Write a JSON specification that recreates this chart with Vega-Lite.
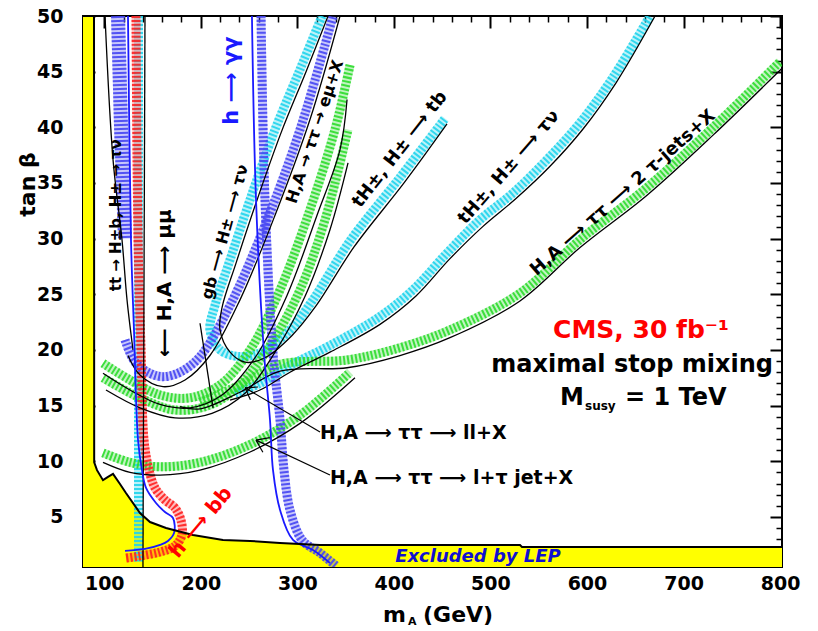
{
  "$schema": "https://vega.github.io/schema/vega-lite/v6.json",
  "width": 699,
  "height": 551,
  "autosize": {"type": "none"},
  "padding": {"left": 83, "top": 16, "right": 36, "bottom": 64},
  "background": "white",
  "config": {"view": {"stroke": "black", "strokeWidth": 2}},
  "datasets": {
    "lep": [
      {"i": 0, "m": 78, "t": 50}, {"i": 1, "m": 89.4, "t": 50}, {"i": 2, "m": 89.6, "t": 9.9},
      {"i": 3, "m": 92.5, "t": 9.2}, {"i": 4, "m": 98.7, "t": 8.3}, {"i": 5, "m": 103.9, "t": 8.6},
      {"i": 6, "m": 109.1, "t": 8.86}, {"i": 7, "m": 116.3, "t": 7.96}, {"i": 8, "m": 122.5, "t": 7.15},
      {"i": 9, "m": 137, "t": 5.35}, {"i": 10, "m": 147.4, "t": 4.54}, {"i": 11, "m": 164, "t": 4.0},
      {"i": 12, "m": 191.9, "t": 3.38}, {"i": 13, "m": 223, "t": 2.93}, {"i": 14, "m": 251, "t": 2.84},
      {"i": 15, "m": 282, "t": 2.66}, {"i": 16, "m": 323.5, "t": 2.48}, {"i": 17, "m": 530.6, "t": 2.48},
      {"i": 18, "m": 532.7, "t": 2.3}, {"i": 19, "m": 802, "t": 2.3}
    ],
    "bands": [
      {"id": "a_cv", "f": "cyan", "i": 0, "m": 135.5, "t": 50}, {"id": "a_cv", "f": "cyan", "i": 1, "m": 135.5, "t": 1.0},
      {"id": "b_cu", "f": "cyan", "i": 0, "m": 325.6, "t": 50}, {"id": "b_cu", "f": "cyan", "i": 1, "m": 302.8, "t": 45.2},
      {"id": "b_cu", "f": "cyan", "i": 2, "m": 276.9, "t": 39.8}, {"id": "b_cu", "f": "cyan", "i": 3, "m": 251, "t": 33.5},
      {"id": "b_cu", "f": "cyan", "i": 4, "m": 230.3, "t": 28.1}, {"id": "b_cu", "f": "cyan", "i": 5, "m": 214.7, "t": 24.0},
      {"id": "b_cu", "f": "cyan", "i": 6, "m": 209.5, "t": 21.8}, {"id": "b_cu", "f": "cyan", "i": 7, "m": 219.9, "t": 20.0},
      {"id": "b_cu", "f": "cyan", "i": 8, "m": 240.6, "t": 19.4}, {"id": "b_cu", "f": "cyan", "i": 9, "m": 263.4, "t": 19.8},
      {"id": "b_cu", "f": "cyan", "i": 10, "m": 292.4, "t": 21.8}, {"id": "b_cu", "f": "cyan", "i": 11, "m": 316.2, "t": 24.5},
      {"id": "b_cu", "f": "cyan", "i": 12, "m": 354.6, "t": 29.8}, {"id": "b_cu", "f": "cyan", "i": 13, "m": 406.3, "t": 35.5},
      {"id": "b_cu", "f": "cyan", "i": 14, "m": 453, "t": 40.8},
      {"id": "c_ctn", "f": "cyan", "i": 0, "m": 235.4, "t": 16.1}, {"id": "c_ctn", "f": "cyan", "i": 1, "m": 261.3, "t": 17.0},
      {"id": "c_ctn", "f": "cyan", "i": 2, "m": 292.4, "t": 18.6}, {"id": "c_ctn", "f": "cyan", "i": 3, "m": 333.8, "t": 20.4},
      {"id": "c_ctn", "f": "cyan", "i": 4, "m": 385.6, "t": 23.0}, {"id": "c_ctn", "f": "cyan", "i": 5, "m": 419.8, "t": 25.4},
      {"id": "c_ctn", "f": "cyan", "i": 6, "m": 455, "t": 28.7}, {"id": "c_ctn", "f": "cyan", "i": 7, "m": 489.2, "t": 31.7},
      {"id": "c_ctn", "f": "cyan", "i": 8, "m": 523.4, "t": 34.1}, {"id": "c_ctn", "f": "cyan", "i": 9, "m": 558.6, "t": 37.1},
      {"id": "c_ctn", "f": "cyan", "i": 10, "m": 592.8, "t": 40.4}, {"id": "c_ctn", "f": "cyan", "i": 11, "m": 627, "t": 44.5},
      {"id": "c_ctn", "f": "cyan", "i": 12, "m": 665.3, "t": 50},
      {"id": "d_emu", "f": "green", "i": 0, "m": 98.7, "t": 18.8}, {"id": "d_emu", "f": "green", "i": 1, "m": 126.7, "t": 17.3},
      {"id": "d_emu", "f": "green", "i": 2, "m": 157.8, "t": 15.95}, {"id": "d_emu", "f": "green", "i": 3, "m": 188.8, "t": 15.7},
      {"id": "d_emu", "f": "green", "i": 4, "m": 219.9, "t": 16.85}, {"id": "d_emu", "f": "green", "i": 5, "m": 251, "t": 20.0},
      {"id": "d_emu", "f": "green", "i": 6, "m": 282.1, "t": 25.4}, {"id": "d_emu", "f": "green", "i": 7, "m": 313.1, "t": 32.6},
      {"id": "d_emu", "f": "green", "i": 8, "m": 339, "t": 39.8}, {"id": "d_emu", "f": "green", "i": 9, "m": 354.6, "t": 45.6},
      {"id": "e_ll", "f": "green", "i": 0, "m": 98.7, "t": 17.5}, {"id": "e_ll", "f": "green", "i": 1, "m": 137, "t": 15.7},
      {"id": "e_ll", "f": "green", "i": 2, "m": 173.3, "t": 14.6}, {"id": "e_ll", "f": "green", "i": 3, "m": 209.5, "t": 15.05},
      {"id": "e_ll", "f": "green", "i": 4, "m": 240.6, "t": 16.85}, {"id": "e_ll", "f": "green", "i": 5, "m": 271.7, "t": 20.4},
      {"id": "e_ll", "f": "green", "i": 6, "m": 302.8, "t": 25.4}, {"id": "e_ll", "f": "green", "i": 7, "m": 328.7, "t": 31.7},
      {"id": "e_ll", "f": "green", "i": 8, "m": 352.5, "t": 39.8},
      {"id": "f_2t", "f": "green", "i": 0, "m": 199.2, "t": 15.3}, {"id": "f_2t", "f": "green", "i": 1, "m": 240.6, "t": 16.85},
      {"id": "f_2t", "f": "green", "i": 2, "m": 282.1, "t": 18.7}, {"id": "f_2t", "f": "green", "i": 3, "m": 351.5, "t": 19.1},
      {"id": "f_2t", "f": "green", "i": 4, "m": 406.3, "t": 20.2}, {"id": "f_2t", "f": "green", "i": 5, "m": 458.1, "t": 21.8},
      {"id": "f_2t", "f": "green", "i": 6, "m": 530.6, "t": 25.1}, {"id": "f_2t", "f": "green", "i": 7, "m": 592.8, "t": 29.9},
      {"id": "f_2t", "f": "green", "i": 8, "m": 662.2, "t": 34.6}, {"id": "f_2t", "f": "green", "i": 9, "m": 730.6, "t": 40.0},
      {"id": "f_2t", "f": "green", "i": 10, "m": 800, "t": 45.9},
      {"id": "g_ltj", "f": "green", "i": 0, "m": 98.7, "t": 10.75}, {"id": "g_ltj", "f": "green", "i": 1, "m": 126.7, "t": 9.9},
      {"id": "g_ltj", "f": "green", "i": 2, "m": 157.8, "t": 9.5}, {"id": "g_ltj", "f": "green", "i": 3, "m": 199.2, "t": 9.9},
      {"id": "g_ltj", "f": "green", "i": 4, "m": 251, "t": 11.5}, {"id": "g_ltj", "f": "green", "i": 5, "m": 302.8, "t": 14.15},
      {"id": "g_ltj", "f": "green", "i": 6, "m": 354.6, "t": 18.0},
      {"id": "h_mumu", "f": "purple", "i": 0, "m": 121.5, "t": 20.9}, {"id": "h_mumu", "f": "purple", "i": 1, "m": 131.9, "t": 18.9},
      {"id": "h_mumu", "f": "purple", "i": 2, "m": 147.4, "t": 17.9}, {"id": "h_mumu", "f": "purple", "i": 3, "m": 160.9, "t": 17.6},
      {"id": "h_mumu", "f": "purple", "i": 4, "m": 178.5, "t": 18.0}, {"id": "h_mumu", "f": "purple", "i": 5, "m": 199.2, "t": 19.4},
      {"id": "h_mumu", "f": "purple", "i": 6, "m": 230.3, "t": 24.0}, {"id": "h_mumu", "f": "purple", "i": 7, "m": 266.5, "t": 31.2},
      {"id": "h_mumu", "f": "purple", "i": 8, "m": 302.8, "t": 39.8}, {"id": "h_mumu", "f": "purple", "i": 9, "m": 337, "t": 50},
      {"id": "i_gg", "f": "purple", "i": 0, "m": 262.4, "t": 50}, {"id": "i_gg", "f": "purple", "i": 1, "m": 266.5, "t": 33.5},
      {"id": "i_gg", "f": "purple", "i": 2, "m": 274.8, "t": 19.7}, {"id": "i_gg", "f": "purple", "i": 3, "m": 282.1, "t": 13.7},
      {"id": "i_gg", "f": "purple", "i": 4, "m": 286.2, "t": 9.2}, {"id": "i_gg", "f": "purple", "i": 5, "m": 292.4, "t": 5.62},
      {"id": "i_gg", "f": "purple", "i": 6, "m": 304.8, "t": 2.93}, {"id": "i_gg", "f": "purple", "i": 7, "m": 323.5, "t": 1.76},
      {"id": "i_gg", "f": "purple", "i": 8, "m": 340.1, "t": 0.6},
      {"id": "j_bb", "f": "red", "i": 0, "m": 132.9, "t": 50}, {"id": "j_bb", "f": "red", "i": 1, "m": 135, "t": 29.9},
      {"id": "j_bb", "f": "red", "i": 2, "m": 138.1, "t": 20}, {"id": "j_bb", "f": "red", "i": 3, "m": 141.2, "t": 11.9},
      {"id": "j_bb", "f": "red", "i": 4, "m": 146.4, "t": 9.2}, {"id": "j_bb", "f": "red", "i": 5, "m": 152.6, "t": 7.6},
      {"id": "j_bb", "f": "red", "i": 6, "m": 162.9, "t": 6.52}, {"id": "j_bb", "f": "red", "i": 7, "m": 173.3, "t": 5.8},
      {"id": "j_bb", "f": "red", "i": 8, "m": 179.5, "t": 4.7}, {"id": "j_bb", "f": "red", "i": 9, "m": 180.5, "t": 3.38},
      {"id": "j_bb", "f": "red", "i": 10, "m": 173.3, "t": 2.39}, {"id": "j_bb", "f": "red", "i": 11, "m": 157.8, "t": 1.85},
      {"id": "j_bb", "f": "red", "i": 12, "m": 137, "t": 1.49}, {"id": "j_bb", "f": "red", "i": 13, "m": 122.5, "t": 1.3},
      {"id": "k_tt", "f": "purple", "i": 0, "m": 114.3, "t": 50}, {"id": "k_tt", "f": "purple", "i": 1, "m": 117.4, "t": 40},
      {"id": "k_tt", "f": "purple", "i": 2, "m": 121.5, "t": 30}
    ],
    "lines": [
      {"id": "tt", "k": "black", "i": 0, "m": 100.8, "t": 50}, {"id": "tt", "k": "black", "i": 1, "m": 109.1, "t": 37.1},
      {"id": "tt", "k": "black", "i": 2, "m": 118.4, "t": 29.9}, {"id": "tt", "k": "black", "i": 3, "m": 123.6, "t": 24.5},
      {"id": "tt", "k": "black", "i": 4, "m": 129.8, "t": 20.0},
      {"id": "mumu", "k": "black", "i": 0, "m": 124.6, "t": 19.5}, {"id": "mumu", "k": "black", "i": 1, "m": 137, "t": 17.75},
      {"id": "mumu", "k": "black", "i": 2, "m": 160.9, "t": 16.7}, {"id": "mumu", "k": "black", "i": 3, "m": 183.7, "t": 17.3},
      {"id": "mumu", "k": "black", "i": 4, "m": 209.5, "t": 19.5}, {"id": "mumu", "k": "black", "i": 5, "m": 240.6, "t": 24.5},
      {"id": "mumu", "k": "black", "i": 6, "m": 276.9, "t": 32.1}, {"id": "mumu", "k": "black", "i": 7, "m": 313.1, "t": 40.7},
      {"id": "mumu", "k": "black", "i": 8, "m": 344.2, "t": 50},
      {"id": "vert", "k": "black", "i": 0, "m": 142.2, "t": 50}, {"id": "vert", "k": "black", "i": 1, "m": 140.1, "t": 0.5},
      {"id": "cu", "k": "black", "i": 0, "m": 331.8, "t": 50}, {"id": "cu", "k": "black", "i": 1, "m": 309, "t": 45.0},
      {"id": "cu", "k": "black", "i": 2, "m": 283.1, "t": 39.5}, {"id": "cu", "k": "black", "i": 3, "m": 257.2, "t": 33.2},
      {"id": "cu", "k": "black", "i": 4, "m": 236.5, "t": 27.8}, {"id": "cu", "k": "black", "i": 5, "m": 222, "t": 23.8},
      {"id": "cu", "k": "black", "i": 6, "m": 219.9, "t": 21.8}, {"id": "cu", "k": "black", "i": 7, "m": 230.3, "t": 19.8},
      {"id": "cu", "k": "black", "i": 8, "m": 245.8, "t": 18.9}, {"id": "cu", "k": "black", "i": 9, "m": 266.5, "t": 19.3},
      {"id": "cu", "k": "black", "i": 10, "m": 294.5, "t": 21.3}, {"id": "cu", "k": "black", "i": 11, "m": 319.3, "t": 23.95},
      {"id": "cu", "k": "black", "i": 12, "m": 358.7, "t": 29.25}, {"id": "cu", "k": "black", "i": 13, "m": 410.5, "t": 35.0},
      {"id": "cu", "k": "black", "i": 14, "m": 455, "t": 40.3},
      {"id": "ctn", "k": "black", "i": 0, "m": 230.3, "t": 15.5}, {"id": "ctn", "k": "black", "i": 1, "m": 261.3, "t": 16.4},
      {"id": "ctn", "k": "black", "i": 2, "m": 292.4, "t": 18.0}, {"id": "ctn", "k": "black", "i": 3, "m": 333.8, "t": 19.8},
      {"id": "ctn", "k": "black", "i": 4, "m": 385.6, "t": 22.3}, {"id": "ctn", "k": "black", "i": 5, "m": 422.9, "t": 24.85},
      {"id": "ctn", "k": "black", "i": 6, "m": 458.1, "t": 28.2}, {"id": "ctn", "k": "black", "i": 7, "m": 492.3, "t": 31.1},
      {"id": "ctn", "k": "black", "i": 8, "m": 526.5, "t": 33.6}, {"id": "ctn", "k": "black", "i": 9, "m": 561.7, "t": 36.5},
      {"id": "ctn", "k": "black", "i": 10, "m": 595.9, "t": 39.85}, {"id": "ctn", "k": "black", "i": 11, "m": 630.1, "t": 44.0},
      {"id": "ctn", "k": "black", "i": 12, "m": 670.5, "t": 50},
      {"id": "emu", "k": "black", "i": 0, "m": 98.7, "t": 17.9}, {"id": "emu", "k": "black", "i": 1, "m": 126.7, "t": 16.4},
      {"id": "emu", "k": "black", "i": 2, "m": 157.8, "t": 15.1}, {"id": "emu", "k": "black", "i": 3, "m": 188.8, "t": 14.8},
      {"id": "emu", "k": "black", "i": 4, "m": 222, "t": 15.95}, {"id": "emu", "k": "black", "i": 5, "m": 256.2, "t": 19.3},
      {"id": "emu", "k": "black", "i": 6, "m": 289.3, "t": 24.9}, {"id": "emu", "k": "black", "i": 7, "m": 320.4, "t": 32.1},
      {"id": "emu", "k": "black", "i": 8, "m": 344.2, "t": 38.0}, {"id": "emu", "k": "black", "i": 9, "m": 351.5, "t": 42.5},
      {"id": "ll", "k": "black", "i": 0, "m": 101.8, "t": 16.4}, {"id": "ll", "k": "black", "i": 1, "m": 137, "t": 14.8},
      {"id": "ll", "k": "black", "i": 2, "m": 173.3, "t": 13.9}, {"id": "ll", "k": "black", "i": 3, "m": 211.6, "t": 14.3},
      {"id": "ll", "k": "black", "i": 4, "m": 245.8, "t": 16.1}, {"id": "ll", "k": "black", "i": 5, "m": 276.9, "t": 19.8},
      {"id": "ll", "k": "black", "i": 6, "m": 307.9, "t": 24.8}, {"id": "ll", "k": "black", "i": 7, "m": 333.8, "t": 30.8},
      {"id": "ll", "k": "black", "i": 8, "m": 352.5, "t": 36.8},
      {"id": "tau2", "k": "black", "i": 0, "m": 178.5, "t": 14.9}, {"id": "tau2", "k": "black", "i": 1, "m": 199.2, "t": 14.7},
      {"id": "tau2", "k": "black", "i": 2, "m": 240.6, "t": 16.2}, {"id": "tau2", "k": "black", "i": 3, "m": 282.1, "t": 18.1},
      {"id": "tau2", "k": "black", "i": 4, "m": 351.5, "t": 18.4}, {"id": "tau2", "k": "black", "i": 5, "m": 406.3, "t": 19.5},
      {"id": "tau2", "k": "black", "i": 6, "m": 458.1, "t": 21.1}, {"id": "tau2", "k": "black", "i": 7, "m": 530.6, "t": 24.4},
      {"id": "tau2", "k": "black", "i": 8, "m": 592.8, "t": 29.2}, {"id": "tau2", "k": "black", "i": 9, "m": 662.2, "t": 33.9},
      {"id": "tau2", "k": "black", "i": 10, "m": 730.6, "t": 39.3}, {"id": "tau2", "k": "black", "i": 11, "m": 802, "t": 45.3},
      {"id": "ltj", "k": "black", "i": 0, "m": 98.7, "t": 9.9}, {"id": "ltj", "k": "black", "i": 1, "m": 126.7, "t": 9.0},
      {"id": "ltj", "k": "black", "i": 2, "m": 157.8, "t": 8.75}, {"id": "ltj", "k": "black", "i": 3, "m": 199.2, "t": 9.2},
      {"id": "ltj", "k": "black", "i": 4, "m": 251, "t": 10.83}, {"id": "ltj", "k": "black", "i": 5, "m": 302.8, "t": 13.4},
      {"id": "ltj", "k": "black", "i": 6, "m": 359.7, "t": 17.5},
      {"id": "gb", "k": "black", "i": 0, "m": 199.2, "t": 22.4}, {"id": "gb", "k": "black", "i": 1, "m": 212.7, "t": 14.8},
      {"id": "hbb", "k": "blue", "i": 0, "m": 124.6, "t": 50}, {"id": "hbb", "k": "blue", "i": 1, "m": 127.7, "t": 29.9},
      {"id": "hbb", "k": "blue", "i": 2, "m": 130.8, "t": 21.8}, {"id": "hbb", "k": "blue", "i": 3, "m": 135, "t": 11.9},
      {"id": "hbb", "k": "blue", "i": 4, "m": 139.1, "t": 9.2}, {"id": "hbb", "k": "blue", "i": 5, "m": 143.3, "t": 7.6},
      {"id": "hbb", "k": "blue", "i": 6, "m": 153.6, "t": 6.25}, {"id": "hbb", "k": "blue", "i": 7, "m": 162.9, "t": 5.44},
      {"id": "hbb", "k": "blue", "i": 8, "m": 171.2, "t": 4.9}, {"id": "hbb", "k": "blue", "i": 9, "m": 172.3, "t": 3.55},
      {"id": "hbb", "k": "blue", "i": 10, "m": 166, "t": 2.84}, {"id": "hbb", "k": "blue", "i": 11, "m": 157.8, "t": 2.48},
      {"id": "hbb", "k": "blue", "i": 12, "m": 142.2, "t": 2.12}, {"id": "hbb", "k": "blue", "i": 13, "m": 121.5, "t": 1.94},
      {"id": "hgg", "k": "blue", "i": 0, "m": 253, "t": 50}, {"id": "hgg", "k": "blue", "i": 1, "m": 257.2, "t": 33.5},
      {"id": "hgg", "k": "blue", "i": 2, "m": 265.5, "t": 19.7}, {"id": "hgg", "k": "blue", "i": 3, "m": 271.7, "t": 13.7},
      {"id": "hgg", "k": "blue", "i": 4, "m": 274.8, "t": 9.2}, {"id": "hgg", "k": "blue", "i": 5, "m": 282.1, "t": 5.62},
      {"id": "hgg", "k": "blue", "i": 6, "m": 295.5, "t": 2.93}, {"id": "hgg", "k": "blue", "i": 7, "m": 316.2, "t": 2.03},
      {"id": "hgg", "k": "blue", "i": 8, "m": 333.8, "t": 0.86}
    ],
    "segs": [
      {"m": 245.8, "t": 16.6, "m2": 323.5, "t2": 12.63},
      {"m": 245.8, "t": 16.6, "m2": 251.4, "t2": 15.52},
      {"m": 245.8, "t": 16.6, "m2": 259.2, "t2": 16.67},
      {"m": 257.2, "t": 11.9, "m2": 333.8, "t2": 8.77},
      {"m": 257.2, "t": 11.9, "m2": 264.3, "t2": 10.81},
      {"m": 257.2, "t": 11.9, "m2": 271.5, "t2": 12.12}
    ],
    "ann": [
      {"g": "cms", "m": 656, "t": 21.8, "s": "CMS, 30 fb⁻¹"},
      {"g": "big", "m": 646.7, "t": 18.65, "s": "maximal stop mixing"},
      {"g": "bigL", "m": 572.1, "t": 15.7, "s": "M"},
      {"g": "bigL", "m": 639.4, "t": 15.7, "s": "= 1 TeV"},
      {"g": "sub", "m": 598, "t": 14.97, "s": "susy"},
      {"g": "decay", "m": 323.5, "t": 12.54, "s": "H,A ⟶ ττ ⟶ ll+X"},
      {"g": "decay", "m": 333.8, "t": 8.5, "s": "H,A ⟶ ττ ⟶ l+τ jet+X"},
      {"g": "lep", "m": 487.1, "t": 1.4, "s": "Excluded by LEP"},
      {"g": "gg", "m": 232.3, "t": 44.2, "s": "h ⟶ γγ"},
      {"g": "tt", "m": 112.2, "t": 32.1, "s": "tt → H±b, H± → τν"},
      {"g": "mumu", "m": 162.9, "t": 26.0, "s": "⟵ H,A ⟶ μμ"},
      {"g": "gb", "m": 225.1, "t": 30.6, "s": "gb ⟶ H± ⟶ τν"},
      {"g": "emu", "m": 318.3, "t": 39.6, "s": "H,A → ττ → eμ+X"},
      {"g": "tb", "m": 406.3, "t": 38.0, "s": "tH±, H± ⟶ tb"},
      {"g": "tn", "m": 519.3, "t": 36.4, "s": "tH±, H± ⟶ τν"},
      {"g": "2t", "m": 637.3, "t": 34.1, "s": "H,A ⟶ ττ ⟶ 2 τ-jets+X"},
      {"g": "hbb", "m": 200.2, "t": 4.5, "s": "h ⟶ bb"},
      {"g": "xt", "m": 388.7, "t": -3.81, "s": "m"},
      {"g": "xt", "m": 430.2, "t": -3.81, "s": "(GeV)"},
      {"g": "xa", "m": 414.6, "t": -4.4, "s": "A"}
    ]
  },
  "encoding": {
    "x": {"field": "m", "type": "quantitative", "scale": {"domain": [78, 802], "nice": false, "zero": false}, "axis": null},
    "y": {"field": "t", "type": "quantitative", "scale": {"domain": [0.5, 50], "nice": false, "zero": false}, "axis": null}
  },
  "layer": [
    {
      "data": {"name": "lep"},
      "mark": {"type": "area", "color": "#ffff00", "clip": true},
      "encoding": {"y2": {"datum": 0.5}}
    },
    {
      "data": {"name": "bands"},
      "transform": [{"filter": "datum.id != 'k_tt'"}],
      "mark": {"type": "line", "strokeWidth": 9, "opacity": 0.3, "interpolate": "catmull-rom", "clip": true},
      "encoding": {
        "detail": {"field": "id"},
        "order": {"field": "i"},
        "color": {"field": "f", "type": "nominal", "scale": {"domain": ["purple", "cyan", "green", "red"], "range": ["#4646f2", "#20d4ec", "#2edc2e", "#ff2020"]}, "legend": null}
      }
    },
    {
      "data": {"name": "bands"},
      "transform": [{"filter": "datum.id == 'k_tt'"}],
      "mark": {"type": "line", "strokeWidth": 14, "opacity": 0.3, "clip": true},
      "encoding": {
        "detail": {"field": "id"},
        "order": {"field": "i"},
        "color": {"field": "f", "type": "nominal", "scale": {"domain": ["purple", "cyan", "green", "red"], "range": ["#4646f2", "#20d4ec", "#2edc2e", "#ff2020"]}, "legend": null}
      }
    },
    {
      "data": {"name": "bands"},
      "transform": [{"filter": "datum.id != 'k_tt'"}],
      "mark": {"type": "line", "strokeWidth": 9, "strokeDash": [2, 2], "strokeCap": "butt", "opacity": 0.9, "interpolate": "catmull-rom", "clip": true},
      "encoding": {
        "detail": {"field": "id"},
        "order": {"field": "i"},
        "color": {"field": "f", "type": "nominal", "scale": {"domain": ["purple", "cyan", "green", "red"], "range": ["#4646f2", "#20d4ec", "#2edc2e", "#ff2020"]}, "legend": null}
      }
    },
    {
      "data": {"name": "bands"},
      "transform": [{"filter": "datum.id == 'k_tt'"}],
      "mark": {"type": "line", "strokeWidth": 14, "strokeDash": [2, 2], "strokeCap": "butt", "opacity": 0.9, "clip": true},
      "encoding": {
        "detail": {"field": "id"},
        "order": {"field": "i"},
        "color": {"field": "f", "type": "nominal", "scale": {"domain": ["purple", "cyan", "green", "red"], "range": ["#4646f2", "#20d4ec", "#2edc2e", "#ff2020"]}, "legend": null}
      }
    },
    {
      "data": {"name": "lines"},
      "transform": [{"filter": "datum.k == 'black'"}],
      "mark": {"type": "line", "color": "black", "strokeWidth": 1.3, "interpolate": "catmull-rom", "clip": true},
      "encoding": {"detail": {"field": "id"}, "order": {"field": "i"}}
    },
    {
      "data": {"name": "lines"},
      "transform": [{"filter": "datum.k == 'blue'"}],
      "mark": {"type": "line", "color": "#1a1aff", "strokeWidth": 1.8, "interpolate": "catmull-rom", "clip": true},
      "encoding": {"detail": {"field": "id"}, "order": {"field": "i"}}
    },
    {
      "data": {"name": "lep"},
      "mark": {"type": "line", "color": "black", "strokeWidth": 2, "clip": true},
      "encoding": {"order": {"field": "i"}}
    },
    {
      "data": {"name": "segs"},
      "mark": {"type": "rule", "color": "black", "strokeWidth": 1.2},
      "encoding": {"x2": {"field": "m2"}, "y2": {"field": "t2"}}
    },
    {
      "data": {"name": "ann"},
      "transform": [{"filter": "datum.g == 'cms'"}],
      "mark": {"type": "text", "font": "DejaVu Sans", "fontWeight": "bold", "fontSize": 25, "color": "#ff0000", "align": "center", "baseline": "middle"},
      "encoding": {"text": {"field": "s"}}
    },
    {
      "data": {"name": "ann"},
      "transform": [{"filter": "datum.g == 'big'"}],
      "mark": {"type": "text", "font": "DejaVu Sans", "fontWeight": "bold", "fontSize": 24, "color": "black", "align": "center", "baseline": "middle"},
      "encoding": {"text": {"field": "s"}}
    },
    {
      "data": {"name": "ann"},
      "transform": [{"filter": "datum.g == 'bigL'"}],
      "mark": {"type": "text", "font": "DejaVu Sans", "fontWeight": "bold", "fontSize": 24, "color": "black", "align": "left", "baseline": "middle"},
      "encoding": {"text": {"field": "s"}}
    },
    {
      "data": {"name": "ann"},
      "transform": [{"filter": "datum.g == 'sub'"}],
      "mark": {"type": "text", "font": "DejaVu Sans", "fontWeight": "bold", "fontSize": 12, "color": "black", "align": "left", "baseline": "middle"},
      "encoding": {"text": {"field": "s"}}
    },
    {
      "data": {"name": "ann"},
      "transform": [{"filter": "datum.g == 'decay'"}],
      "mark": {"type": "text", "font": "DejaVu Sans", "fontWeight": "bold", "fontSize": 19, "color": "black", "align": "left", "baseline": "middle"},
      "encoding": {"text": {"field": "s"}}
    },
    {
      "data": {"name": "ann"},
      "transform": [{"filter": "datum.g == 'lep'"}],
      "mark": {"type": "text", "font": "DejaVu Sans", "fontWeight": "bold", "fontStyle": "italic", "fontSize": 18, "color": "#1010d0", "align": "center", "baseline": "middle"},
      "encoding": {"text": {"field": "s"}}
    },
    {
      "data": {"name": "ann"},
      "transform": [{"filter": "datum.g == 'gg'"}],
      "mark": {"type": "text", "font": "DejaVu Sans", "fontWeight": "bold", "fontSize": 21, "color": "#1a1aff", "align": "center", "baseline": "middle", "angle": -90},
      "encoding": {"text": {"field": "s"}}
    },
    {
      "data": {"name": "ann"},
      "transform": [{"filter": "datum.g == 'tt'"}],
      "mark": {"type": "text", "font": "DejaVu Sans", "fontWeight": "bold", "fontSize": 15, "color": "black", "align": "center", "baseline": "middle", "angle": -90},
      "encoding": {"text": {"field": "s"}}
    },
    {
      "data": {"name": "ann"},
      "transform": [{"filter": "datum.g == 'mumu'"}],
      "mark": {"type": "text", "font": "DejaVu Sans", "fontWeight": "bold", "fontSize": 20, "color": "black", "align": "center", "baseline": "middle", "angle": -90},
      "encoding": {"text": {"field": "s"}}
    },
    {
      "data": {"name": "ann"},
      "transform": [{"filter": "datum.g == 'gb'"}],
      "mark": {"type": "text", "font": "DejaVu Sans", "fontWeight": "bold", "fontSize": 16, "color": "black", "align": "center", "baseline": "middle", "angle": -74.7},
      "encoding": {"text": {"field": "s"}}
    },
    {
      "data": {"name": "ann"},
      "transform": [{"filter": "datum.g == 'emu'"}],
      "mark": {"type": "text", "font": "DejaVu Sans", "fontWeight": "bold", "fontSize": 16, "color": "black", "align": "center", "baseline": "middle", "angle": -71.6},
      "encoding": {"text": {"field": "s"}}
    },
    {
      "data": {"name": "ann"},
      "transform": [{"filter": "datum.g == 'tb'"}],
      "mark": {"type": "text", "font": "DejaVu Sans", "fontWeight": "bold", "fontSize": 18, "color": "black", "align": "center", "baseline": "middle", "angle": -52},
      "encoding": {"text": {"field": "s"}}
    },
    {
      "data": {"name": "ann"},
      "transform": [{"filter": "datum.g == 'tn'"}],
      "mark": {"type": "text", "font": "DejaVu Sans", "fontWeight": "bold", "fontSize": 18, "color": "black", "align": "center", "baseline": "middle", "angle": -49},
      "encoding": {"text": {"field": "s"}}
    },
    {
      "data": {"name": "ann"},
      "transform": [{"filter": "datum.g == '2t'"}],
      "mark": {"type": "text", "font": "DejaVu Sans", "fontWeight": "bold", "fontSize": 18, "color": "black", "align": "center", "baseline": "middle", "angle": -41.5},
      "encoding": {"text": {"field": "s"}}
    },
    {
      "data": {"name": "ann"},
      "transform": [{"filter": "datum.g == 'hbb'"}],
      "mark": {"type": "text", "font": "DejaVu Sans", "fontWeight": "bold", "fontSize": 20, "color": "#ff0000", "align": "center", "baseline": "middle", "angle": -50},
      "encoding": {"text": {"field": "s"}}
    },
    {
      "data": {"name": "ann"},
      "transform": [{"filter": "datum.g == 'xt'"}],
      "mark": {"type": "text", "font": "DejaVu Sans", "fontWeight": "bold", "fontSize": 22, "color": "black", "align": "left", "baseline": "middle"},
      "encoding": {"text": {"field": "s"}}
    },
    {
      "data": {"name": "ann"},
      "transform": [{"filter": "datum.g == 'xa'"}],
      "mark": {"type": "text", "font": "DejaVu Sans", "fontWeight": "bold", "fontSize": 11, "color": "black", "align": "left", "baseline": "middle"},
      "encoding": {"text": {"field": "s"}}
    },
    {
      "data": {"name": "lep"},
      "mark": {"type": "point", "opacity": 0},
      "encoding": {
        "x": {"field": "m", "type": "quantitative", "scale": {"domain": [78, 802], "nice": false, "zero": false},
          "axis": {"orient": "bottom", "values": [100, 200, 300, 400, 500, 600, 700, 800], "tickSize": -12, "tickWidth": 2, "tickColor": "black", "labelFont": "DejaVu Sans", "labelFontWeight": "bold", "labelFontSize": 19, "labelColor": "black", "labelPadding": 19, "labelFlush": false, "labelOverlap": false, "domain": false, "grid": false, "title": null}},
        "y": {"field": "t", "type": "quantitative", "scale": {"domain": [0.5, 50], "nice": false, "zero": false},
          "axis": {"orient": "left", "values": [5, 10, 15, 20, 25, 30, 35, 40, 45, 50], "tickSize": -12, "tickWidth": 2, "tickColor": "black", "labelFont": "DejaVu Sans", "labelFontWeight": "bold", "labelFontSize": 19, "labelColor": "black", "labelPadding": 32, "labelFlush": false, "labelOverlap": false, "domain": false, "grid": false,
            "title": "tan β", "titleFont": "DejaVu Sans", "titleFontWeight": "bold", "titleFontSize": 22, "titleColor": "black", "titleX": -56, "titleY": 168, "titleAngle": -90, "titleAlign": "center", "titleBaseline": "middle"}}
      }
    },
    {
      "data": {"name": "lep"},
      "mark": {"type": "point", "opacity": 0},
      "encoding": {
        "x": {"field": "m", "type": "quantitative", "scale": {"domain": [78, 802], "nice": false, "zero": false},
          "axis": {"orient": "bottom", "values": [80, 120, 140, 160, 180, 220, 240, 260, 280, 320, 340, 360, 380, 420, 440, 460, 480, 520, 540, 560, 580, 620, 640, 660, 680, 720, 740, 760, 780], "tickSize": -6, "tickWidth": 1.5, "tickColor": "black", "labels": false, "domain": false, "grid": false, "title": null}},
        "y": {"field": "t", "type": "quantitative", "scale": {"domain": [0.5, 50], "nice": false, "zero": false},
          "axis": {"orient": "left", "values": [1, 2, 3, 4, 6, 7, 8, 9, 11, 12, 13, 14, 16, 17, 18, 19, 21, 22, 23, 24, 26, 27, 28, 29, 31, 32, 33, 34, 36, 37, 38, 39, 41, 42, 43, 44, 46, 47, 48, 49], "tickSize": -6, "tickWidth": 1.5, "tickColor": "black", "labels": false, "domain": false, "grid": false, "title": null}}
      }
    },
    {
      "data": {"name": "lep"},
      "mark": {"type": "point", "opacity": 0},
      "encoding": {
        "x": {"field": "m", "type": "quantitative", "scale": {"domain": [78, 802], "nice": false, "zero": false},
          "axis": {"orient": "top", "values": [100, 200, 300, 400, 500, 600, 700, 800], "tickSize": -12, "tickWidth": 2, "tickColor": "black", "labels": false, "domain": false, "grid": false, "title": null}},
        "y": {"field": "t", "type": "quantitative", "scale": {"domain": [0.5, 50], "nice": false, "zero": false},
          "axis": {"orient": "right", "values": [5, 10, 15, 20, 25, 30, 35, 40, 45, 50], "tickSize": -12, "tickWidth": 2, "tickColor": "black", "labels": false, "domain": false, "grid": false, "title": null}}
      }
    },
    {
      "data": {"name": "lep"},
      "mark": {"type": "point", "opacity": 0},
      "encoding": {
        "x": {"field": "m", "type": "quantitative", "scale": {"domain": [78, 802], "nice": false, "zero": false},
          "axis": {"orient": "top", "values": [80, 120, 140, 160, 180, 220, 240, 260, 280, 320, 340, 360, 380, 420, 440, 460, 480, 520, 540, 560, 580, 620, 640, 660, 680, 720, 740, 760, 780], "tickSize": -6, "tickWidth": 1.5, "tickColor": "black", "labels": false, "domain": false, "grid": false, "title": null}},
        "y": {"field": "t", "type": "quantitative", "scale": {"domain": [0.5, 50], "nice": false, "zero": false},
          "axis": {"orient": "right", "values": [1, 2, 3, 4, 6, 7, 8, 9, 11, 12, 13, 14, 16, 17, 18, 19, 21, 22, 23, 24, 26, 27, 28, 29, 31, 32, 33, 34, 36, 37, 38, 39, 41, 42, 43, 44, 46, 47, 48, 49], "tickSize": -6, "tickWidth": 1.5, "tickColor": "black", "labels": false, "domain": false, "grid": false, "title": null}}
      }
    }
  ],
  "resolve": {"axis": {"x": "independent", "y": "independent"}}
}
